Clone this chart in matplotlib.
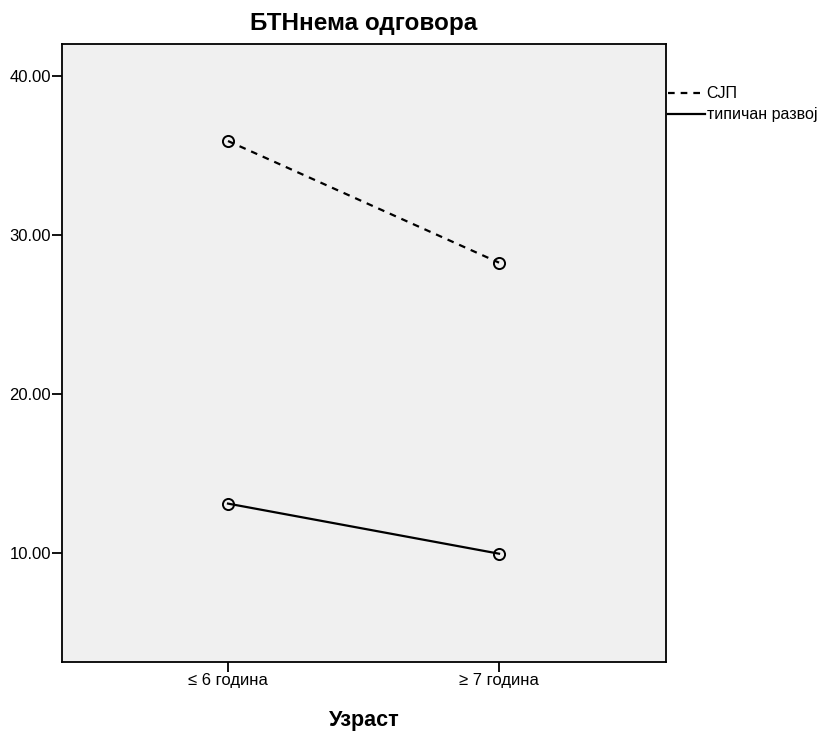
import matplotlib
matplotlib.use("Agg")
import matplotlib.pyplot as plt
from matplotlib.lines import Line2D

plt.rcParams['font.family'] = ['Liberation Sans', 'DejaVu Sans']

# data
categories = ["≤ 6 година", "≥ 7 година"]
sjp_values = [35.9, 28.25]
typical_values = [13.1, 9.95]
series_names = ["СЈП", "типичан развој"]
y_ticks = [10, 20, 30, 40]

fig = plt.figure(figsize=(8.2, 7.31), dpi=100)
ax = fig.add_axes([0.0756, 0.0944, 0.7366, 0.8454])
ax.set_facecolor("#f0f0f0")

dash = (0, (3, 2.7))
x = list(range(len(categories)))
ax.plot(x, sjp_values, color="black", linestyle=dash, linewidth=1.6,
        marker="o", markersize=8, markerfacecolor="none", markeredgecolor="black",
        markeredgewidth=1.4)
ax.plot(x, typical_values, color="black", linestyle="-", linewidth=1.6,
        marker="o", markersize=8, markerfacecolor="none", markeredgecolor="black",
        markeredgewidth=1.4)

ax.set_xlim(-0.6125, 1.616)
ax.set_ylim(3.14, 42.0)
ax.set_xticks(x)
ax.set_xticklabels(categories, fontsize=12)
ax.set_yticks(y_ticks)
ax.set_yticklabels([f"{v:.2f}" for v in y_ticks], fontsize=12)
ax.tick_params(direction="out", length=7, width=1.3, colors="black", pad=1)
for s in ax.spines.values():
    s.set_linewidth(1.3)

ax.set_title("БТНнема одговора", fontsize=17.5, fontweight="bold", pad=10)
ax.set_xlabel("Узраст", fontsize=15.5, fontweight="bold", labelpad=16)

handles = [
    Line2D([], [], color="black", linestyle=dash, linewidth=1.6),
    Line2D([], [], color="black", linestyle="-", linewidth=1.6),
]
fig.legend(handles, series_names, loc="upper left", bbox_to_anchor=(0.813, 0.884),
           frameon=False, fontsize=11.5, handlelength=2.3, handletextpad=0.1,
           labelspacing=0.38, borderaxespad=0, borderpad=0.1)

fig.savefig("out.png", dpi=100, facecolor="white")
